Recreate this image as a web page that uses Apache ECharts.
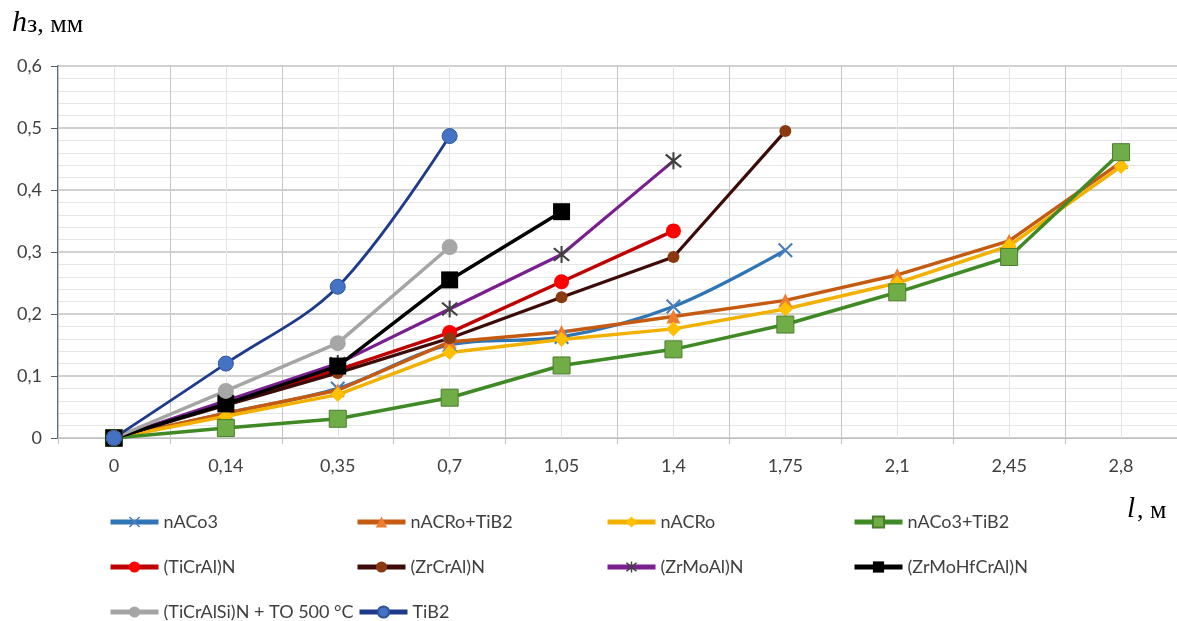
<!DOCTYPE html>
<html>
<head>
<meta charset="utf-8">
<script src="https://cdn.jsdelivr.net/npm/echarts@6/dist/echarts.min.js"></script>
<style>
html,body{margin:0;padding:0;background:#fff;}
#chart{width:1177px;height:621px;}
</style>
</head>
<body>
<div id="chart"></div>
<script>
// ---- data ----
var categories = ['0','0,14','0,35','0,7','1,05','1,4','1,75','2,1','2,45','2,8'];
var yTicks = [0, 0.1, 0.2, 0.3, 0.4, 0.5, 0.6];
var halfSteps = ['','','','','','','','','','','','','','','','','','','',''];

var nACo3       = [0, 0.040, 0.080, 0.150, 0.163, 0.212, 0.303];
var nACRo_TiB2  = [0, 0.040, 0.077, 0.155, 0.171, 0.196, 0.222, 0.263, 0.318, 0.445];
var nACRo       = [0, 0.035, 0.070, 0.138, 0.159, 0.176, 0.208, 0.250, 0.310, 0.438];
var nACo3_TiB2  = [0, 0.016, 0.031, 0.065, 0.117, 0.143, 0.183, 0.235, 0.292, 0.461];
var TiCrAlN     = [0, 0.055, 0.110, 0.170, 0.252, 0.334];
var ZrCrAlN     = [0, 0.053, 0.105, 0.161, 0.227, 0.292, 0.495];
var ZrMoAlN     = [0, 0.060, 0.120, 0.208, 0.296, 0.447];
var ZrMoHfCrAlN = [0, 0.055, 0.116, 0.255, 0.365];
var TiCrAlSiN   = [0, 0.076, 0.153, 0.308];
var TiB2        = [0, 0.120, 0.244, 0.487];

var names = ['nACo3','nACRo+TiB2','nACRo','nACo3+TiB2','(TiCrAl)N','(ZrCrAl)N','(ZrMoAl)N','(ZrMoHfCrAl)N','(TiCrAlSi)N + TO 500 °C','TiB2'];

var X_PATH = 'path://M0,1L1,0L10,9L9,10Z M9,0L10,1L1,10L0,9Z';
var AST_PATH = 'path://M0,1L1,0L10,9L9,10Z M9,0L10,1L1,10L0,9Z M4.4,-1L5.6,-1L5.6,11L4.4,11Z';

function mk(name, data, lineColor, lw, symbol, size, fill, border, smooth) {
  return {
    name: name, type: 'line', data: data, smooth: smooth || false,
    symbol: symbol, symbolSize: size, showSymbol: true,
    lineStyle: { color: lineColor, width: lw },
    itemStyle: { color: fill, borderColor: border || fill, borderWidth: border ? 1 : 0 },
    emphasis: { disabled: true }
  };
}

var series = [
  mk(names[0], nACo3, '#2e75b6', 3.2, X_PATH, 15, '#4a7ebb', null, 0.35),
  mk(names[1], nACRo_TiB2, '#c55a11', 3.5, 'triangle', 14, '#ed7d31'),
  mk(names[2], nACRo, '#f2b000', 3.5, 'diamond', 15, '#ffc000'),
  mk(names[3], nACo3_TiB2, '#3f8a24', 3.5, 'rect', 17, '#70ad47', '#4a7d2c'),
  mk(names[4], TiCrAlN, '#c00000', 3.5, 'circle', 15, '#ff0000'),
  mk(names[5], ZrCrAlN, '#3d0b08', 3.2, 'circle', 12, '#8b3a10'),
  mk(names[6], ZrMoAlN, '#7a1f8f', 3.2, AST_PATH, 17, '#404040'),
  mk(names[7], ZrMoHfCrAlN, '#000000', 3.5, 'rect', 17, '#000000'),
  mk(names[8], TiCrAlSiN, '#a5a5a5', 3.5, 'circle', 16, '#a6a6a6'),
  mk(names[9], TiB2, '#1f3a8a', 2.8, 'circle', 15, '#4472c4', '#2f5597', 0.35)
];

var legendText = { fontFamily: 'Lato', fontSize: 18, color: '#404040', lineHeight: 18 };
function lg(left, top, name) {
  return {
    orient: 'horizontal', left: left, top: top, padding: 0,
    itemWidth: 48, itemHeight: 14, itemGap: 4, data: [name],
    lineStyle: { width: 5 },
    textStyle: legendText, selectedMode: false
  };
}
var rowTop = [513, 558, 603];
var colLeft = [108, 355, 605, 852];

var chart = echarts.init(document.getElementById('chart'), null, { renderer: 'canvas' });
chart.setOption({
  animation: false,
  backgroundColor: '#ffffff',
  grid: { left: 58, right: 0, top: 66, bottom: 183, containLabel: false },
  xAxis: [
    {
      type: 'category', data: categories, boundaryGap: true, z: 1,
      axisLine: { lineStyle: { color: '#bfbfbf', width: 1 } },
      axisTick: { show: true, length: 6, lineStyle: { color: '#bfbfbf' } },
      axisLabel: { fontFamily: 'Lato', fontSize: 18, color: '#404040', margin: 19, interval: 0 },
      splitLine: { show: true, interval: 0, lineStyle: { color: '#c6c6c6', width: 1 } }
    },
    {
      type: 'category', data: halfSteps, boundaryGap: true, position: 'top', z: 0,
      axisLine: { show: false }, axisTick: { show: false }, axisLabel: { show: false },
      splitLine: { show: true, interval: 0, lineStyle: { color: '#e4e4e4', width: 1 } }
    }
  ],
  yAxis: {
    type: 'value', min: 0, max: 0.6, interval: 0.1,
    axisLine: { show: true, lineStyle: { color: '#1f3a7a', width: 1.5 } },
    axisTick: { show: true, length: 7, lineStyle: { color: '#595959' } },
    axisLabel: {
      fontFamily: 'Lato', fontSize: 18, color: '#404040', margin: 16,
      formatter: function (v) { return String(+v.toFixed(1)).replace('.', ','); }
    },
    splitLine: { show: true, lineStyle: { color: '#c2c2c2', width: 1.5 } },
    minorTick: { show: false, splitNumber: 5 },
    minorSplitLine: { show: true, lineStyle: { color: '#e6e6e6', width: 1 } }
  },
  legend: [
    lg(colLeft[0], rowTop[0], names[0]),
    lg(colLeft[1], rowTop[0], names[1]),
    lg(colLeft[2], rowTop[0], names[2]),
    lg(colLeft[3], rowTop[0], names[3]),
    lg(colLeft[0], rowTop[1], names[4]),
    lg(colLeft[1], rowTop[1], names[5]),
    lg(colLeft[2], rowTop[1], names[6]),
    lg(colLeft[3], rowTop[1], names[7]),
    lg(colLeft[0], rowTop[2], names[8]),
    lg(357, rowTop[2], names[9])
  ],
  graphic: [
    { type: 'text', x: 12, y: 23, style: { text: 'h', font: 'italic 30px "Liberation Serif"', fill: '#000', verticalAlign: 'middle' } },
    { type: 'text', x: 27, y: 25, style: { text: 'з, мм', font: '26px "Liberation Serif"', fill: '#000', verticalAlign: 'middle' } },
    { type: 'text', x: 1127, y: 509, style: { text: 'l', font: 'italic 29px "Liberation Serif"', fill: '#000', verticalAlign: 'middle' } },
    { type: 'text', x: 1137, y: 511, style: { text: ', м', font: '26px "Liberation Serif"', fill: '#000', verticalAlign: 'middle' } }
  ],
  series: series
});
</script>
</body>
</html>
